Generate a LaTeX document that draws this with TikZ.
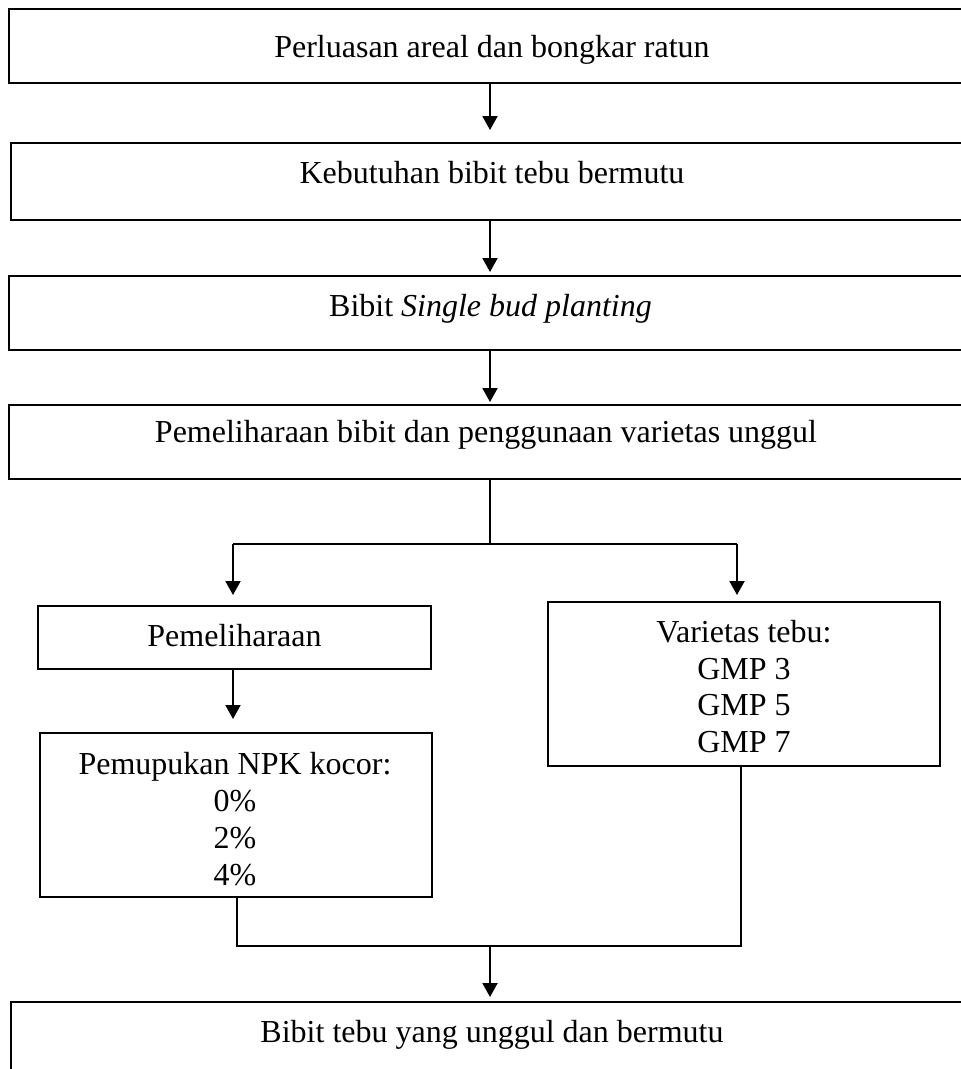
\documentclass[tikz,border=0pt]{standalone}
\usepackage{fontspec}
\setmainfont{Liberation Serif}
\usetikzlibrary{arrows.meta}
\tikzset{
  boxnode/.style={draw=black, line width=2pt, rectangle, inner sep=0pt},
  txt/.style={inner sep=0pt, font=\fontsize{32}{36.8}\selectfont, align=center},
  arr/.style={line width=2pt, -{Triangle[length=14pt,width=15pt]}},
  thin/.style={line width=1.2pt},
}
\begin{document}
\begin{tikzpicture}[x=1pt,y=-1pt]
\useasboundingbox (0,0) rectangle (961,1069);
\clip (0,0) rectangle (961,1069);
% boxes
\node[boxnode, minimum width=976pt, minimum height=74pt] (b1) at (497,46) {};
\node[boxnode, minimum width=974pt, minimum height=77pt] (b2) at (498,181.5) {};
\node[boxnode, minimum width=976pt, minimum height=74pt] (b3) at (497,313) {};
\node[boxnode, minimum width=976pt, minimum height=74pt] (b4) at (497,442) {};
\node[boxnode, minimum width=393pt, minimum height=63pt] (b5) at (234.5,637.5) {};
\node[boxnode, minimum width=392pt, minimum height=164pt] (b6) at (236,815) {};
\node[boxnode, minimum width=392pt, minimum height=164pt] (b7) at (744,684) {};
\node[boxnode, minimum width=974pt, minimum height=83pt] (b8) at (498,1043.5) {};
% texts
\node[txt, anchor=base] (t1) at (492,57) {Perluasan areal dan bongkar ratun};
\node[txt, anchor=base] (t2) at (492,183) {Kebutuhan bibit tebu bermutu};
\node[txt, anchor=base] (t3) at (490.5,316) {Bibit \textit{Single bud planting}};
\node[txt, anchor=base] (t4) at (486,442) {Pemeliharaan bibit dan penggunaan varietas unggul};
\node[txt, anchor=base] (t5) at (234.5,646) {Pemeliharaan};
\node[txt] (t6) at (235,819) {Pemupukan NPK kocor:\\0\%\\2\%\\4\%};
\node[txt] (t7) at (744,686.5) {Varietas tebu:\\GMP 3\\GMP 5\\GMP 7};
\node[txt, anchor=base] (t8) at (492,1042) {Bibit tebu yang unggul dan bermutu};
% guide coordinates
\coordinate (sp) at (490,0);
\coordinate (lx) at (233,0);
\coordinate (rx) at (737,0);
\coordinate (lx2) at (237,0);
\coordinate (rx2) at (741,0);
\coordinate (j1) at (490,544);
\coordinate (j2) at (490,946);
% connectors
\draw[arr, shorten >=12pt] (b1.south -| sp) -- (b2.north -| sp);
\draw[arr, shorten >=3pt] (b2.south -| sp) -- (b3.north -| sp);
\draw[arr, shorten >=2pt] (b3.south -| sp) -- (b4.north -| sp);
\draw[thin] (b4.south -| sp) -- (j1);
\draw[thin] (lx |- j1) -- (rx |- j1);
\draw[arr, shorten >=10pt] (lx |- j1) -- (b5.north -| lx);
\draw[arr, shorten >=6pt] (rx |- j1) -- (b7.north -| rx);
\draw[arr, shorten >=13pt] (b5.south -| lx) -- (b6.north -| lx);
\draw[thin] (b6.south -| lx2) -- (lx2 |- j2) -- (rx2 |- j2) -- (b7.south -| rx2);
\draw[arr, shorten >=4pt] (j2) -- (b8.north -| sp);
\end{tikzpicture}
\end{document}
